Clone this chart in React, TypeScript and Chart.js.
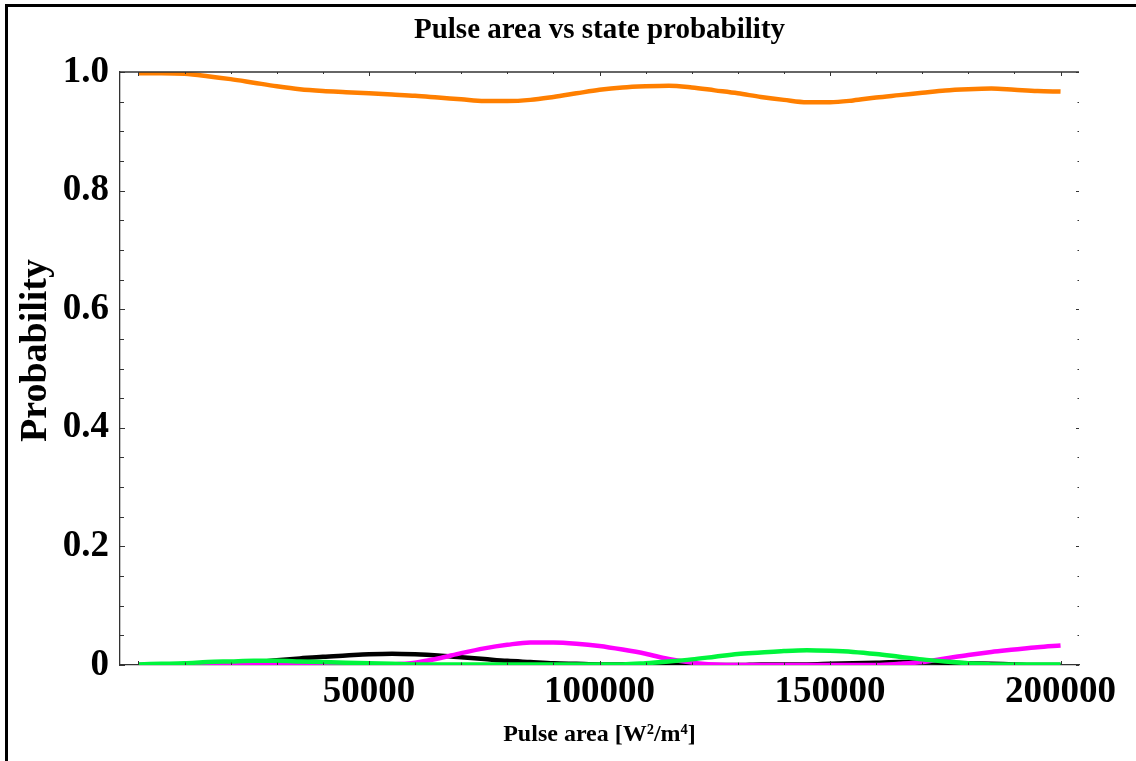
import React, { useEffect, useRef } from "react";
import { Chart, registerables } from "chart.js";

Chart.register(...registerables);

// Pulse area [W^2/m^4]
const pulseArea = [
  0, 5000, 10000, 15000, 20000, 25000, 30000, 35000, 40000, 45000,
  50000, 55000, 60000, 65000, 70000, 75000, 80000, 85000, 90000, 95000,
  100000, 105000, 110000, 115000, 120000, 125000, 130000, 135000, 140000, 145000,
  150000, 155000, 160000, 165000, 170000, 175000, 180000, 185000, 190000, 195000,
  200000,
];

const probOrange = [
  0.998, 0.998, 0.997, 0.993, 0.988, 0.982, 0.976, 0.971, 0.968, 0.966,
  0.964, 0.962, 0.960, 0.957, 0.954, 0.951, 0.951, 0.953, 0.958, 0.964,
  0.970, 0.974, 0.976, 0.977, 0.974, 0.969, 0.964, 0.958, 0.953, 0.949,
  0.949, 0.952, 0.957, 0.961, 0.965, 0.969, 0.971, 0.972, 0.970, 0.968,
  0.967,
];

const probBlack = [
  0.000, 0.000, 0.001, 0.002, 0.003, 0.005, 0.008, 0.011, 0.014, 0.016,
  0.018, 0.019, 0.018, 0.016, 0.013, 0.010, 0.007, 0.005, 0.003, 0.002,
  0.001, 0.001, 0.001, 0.000, 0.000, 0.000, 0.000, 0.001, 0.001, 0.001,
  0.002, 0.003, 0.004, 0.005, 0.005, 0.004, 0.003, 0.002, 0.001, 0.000,
  0.000,
];

const probMagenta = [
  0.000, 0.000, 0.000, 0.000, 0.000, 0.000, 0.000, 0.000, 0.000, 0.000,
  0.000, 0.001, 0.004, 0.011, 0.020, 0.028, 0.034, 0.038, 0.038, 0.036,
  0.032, 0.026, 0.019, 0.010, 0.004, 0.001, 0.000, 0.000, 0.000, 0.000,
  0.000, 0.000, 0.000, 0.002, 0.005, 0.011, 0.017, 0.022, 0.026, 0.030,
  0.033,
];

const probGreen = [
  0.001, 0.002, 0.003, 0.005, 0.006, 0.007, 0.007, 0.006, 0.005, 0.004,
  0.003, 0.002, 0.001, 0.001, 0.001, 0.001, 0.001, 0.001, 0.001, 0.001,
  0.001, 0.001, 0.003, 0.006, 0.0095, 0.014, 0.0185, 0.021, 0.0236, 0.025,
  0.024, 0.022, 0.0185, 0.014, 0.0095, 0.006, 0.003, 0.001, 0.001, 0.001,
  0.001,
];

const xTickValues = [
  0, 10000, 20000, 30000, 40000, 50000, 60000, 70000, 80000, 90000, 100000,
  110000, 120000, 130000, 140000, 150000, 160000, 170000, 180000, 190000, 200000,
];
const xTickLabels = [
  "", "", "", "", "", "50000", "", "", "", "", "100000",
  "", "", "", "", "150000", "", "", "", "", "200000",
];
const xMajorTicks = [0, 50000, 100000, 150000, 200000];

const yTickValues = [
  0, 0.05, 0.1, 0.15, 0.2, 0.25, 0.3, 0.35, 0.4, 0.45, 0.5,
  0.55, 0.6, 0.65, 0.7, 0.75, 0.8, 0.85, 0.9, 0.95, 1,
];
const yTickLabels = [
  "0", "", "", "", "0.2", "", "", "", "0.4", "", "",
  "", "0.6", "", "", "", "0.8", "", "", "", "1.0",
];
const yMajorTicks = [0, 0.2, 0.4, 0.6, 0.8, 1];

const yTitle = "Probability";

const SERIF = "'Liberation Serif', 'Times New Roman', serif";

const toPoints = (ys: number[]) => pulseArea.map((x, i) => ({ x, y: ys[i] }));

const tickMarks = {
  id: "tickMarks",
  afterDraw(chart: any) {
    const { ctx, chartArea: a } = chart;
    const xs = chart.scales.x;
    const ys = chart.scales.y;
    ctx.save();
    ctx.strokeStyle = "#333";
    ctx.lineWidth = 1.3;
    ctx.beginPath();
    ctx.moveTo(a.left, a.top);
    ctx.lineTo(a.right, a.top);
    ctx.stroke();
    ctx.lineWidth = 1;
    ctx.beginPath();
    xTickValues.forEach((v) => {
      const px = Math.round(xs.getPixelForValue(v)) + 0.5;
      const major = xMajorTicks.includes(v);
      const lb = major ? 4 : 2.5;
      const lt = major ? 4 : 2;
      ctx.moveTo(px, a.bottom);
      ctx.lineTo(px, a.bottom - lb);
      ctx.moveTo(px, a.top);
      ctx.lineTo(px, a.top + lt);
    });
    yTickValues.forEach((v) => {
      const py = Math.round(ys.getPixelForValue(v)) + 0.5;
      const major = yMajorTicks.some((m) => Math.abs(m - v) < 1e-9);
      const ll = major ? 5 : 4;
      const lr = major ? 3 : 1.5;
      ctx.moveTo(a.left, py);
      ctx.lineTo(a.left + ll, py);
      ctx.moveTo(a.right, py);
      ctx.lineTo(a.right - lr, py);
    });
    ctx.stroke();

    // y-axis title (rotated), placed a little above the axis centre as in the original
    ctx.fillStyle = "#000";
    ctx.font = `bold 38px ${SERIF}`;
    ctx.textAlign = "center";
    ctx.textBaseline = "middle";
    ctx.translate(a.left - 84, (a.top + a.bottom) / 2 - 18);
    ctx.rotate(-Math.PI / 2);
    ctx.fillText(yTitle, 0, 0);
    ctx.restore();
  },
};

export default function App() {
  const canvasRef = useRef<HTMLCanvasElement | null>(null);

  useEffect(() => {
    const canvas = canvasRef.current;
    if (!canvas) return;
    const lineStyle = {
      borderWidth: 4.5,
      pointRadius: 0,
      cubicInterpolationMode: "monotone" as const,
      fill: false,
    };
    const chart = new Chart(canvas, {
      type: "line",
      data: {
        datasets: [
          { label: "orange", data: toPoints(probOrange), borderColor: "#ff7f00", ...lineStyle },
          { label: "green", data: toPoints(probGreen), borderColor: "#00f53c", ...lineStyle },
          { label: "magenta", data: toPoints(probMagenta), borderColor: "#ff00ff", ...lineStyle },
          { label: "black", data: toPoints(probBlack), borderColor: "#000000", ...lineStyle },
        ],
      },
      options: {
        responsive: false,
        animation: false,
        events: [],
        layout: { padding: { left: 0, right: 57, top: 0, bottom: 0 } },
        plugins: {
          legend: { display: false },
          tooltip: { enabled: false },
          title: {
            display: true,
            fullSize: false,
            text: "Pulse area vs state probability",
            color: "#000",
            font: { family: SERIF, size: 29, weight: "bold" },
            padding: { top: 13.3, bottom: 23.9 },
          },
        },
        scales: {
          x: {
            type: "linear",
            min: -4000,
            max: 204000,
            afterBuildTicks: (s: any) => {
              s.ticks = xTickValues.map((v) => ({ value: v }));
            },
            afterFit: (s: any) => {
              s.height = 96;
            },
            grid: { display: false, drawTicks: false },
            border: { display: true, color: "#333", width: 1.3 },
            ticks: {
              autoSkip: false,
              maxRotation: 0,
              minRotation: 0,
              padding: 5,
              color: "#000",
              font: { family: SERIF, size: 37, weight: "bold" },
              callback: (_v: any, i: number) => xTickLabels[i],
            },
            title: {
              display: true,
              text: "Pulse area [W²/m⁴]",
              color: "#000",
              font: { family: SERIF, size: 24, weight: "bold" },
              padding: { top: 0, bottom: 12 },
            },
          },
          y: {
            type: "linear",
            min: 0,
            max: 1,
            afterBuildTicks: (s: any) => {
              s.ticks = yTickValues.map((v) => ({ value: v }));
            },
            afterFit: (s: any) => {
              s.width = 120;
            },
            grid: { display: false, drawTicks: false },
            border: { display: true, color: "#333", width: 1.3 },
            ticks: {
              autoSkip: false,
              padding: 11,
              color: "#000",
              font: { family: SERIF, size: 37, weight: "bold" },
              callback: (_v: any, i: number) => yTickLabels[i],
            },
            title: { display: false },
          },
        },
      },
      plugins: [tickMarks],
    });
    return () => chart.destroy();
  }, []);

  return (
    <div
      style={{
        position: "fixed",
        left: 0,
        top: 0,
        width: 1136,
        height: 761,
        overflow: "hidden",
        background: "#fff",
      }}
    >
      <canvas
        ref={canvasRef}
        width={1136}
        height={761}
        style={{ position: "absolute", left: 0, top: 0, width: 1136, height: 761 }}
      />
      <div
        style={{
          position: "absolute",
          left: 5,
          top: 4,
          width: 1300,
          height: 900,
          borderLeft: "3px solid #000",
          borderTop: "3px solid #000",
          pointerEvents: "none",
        }}
      />
    </div>
  );
}
